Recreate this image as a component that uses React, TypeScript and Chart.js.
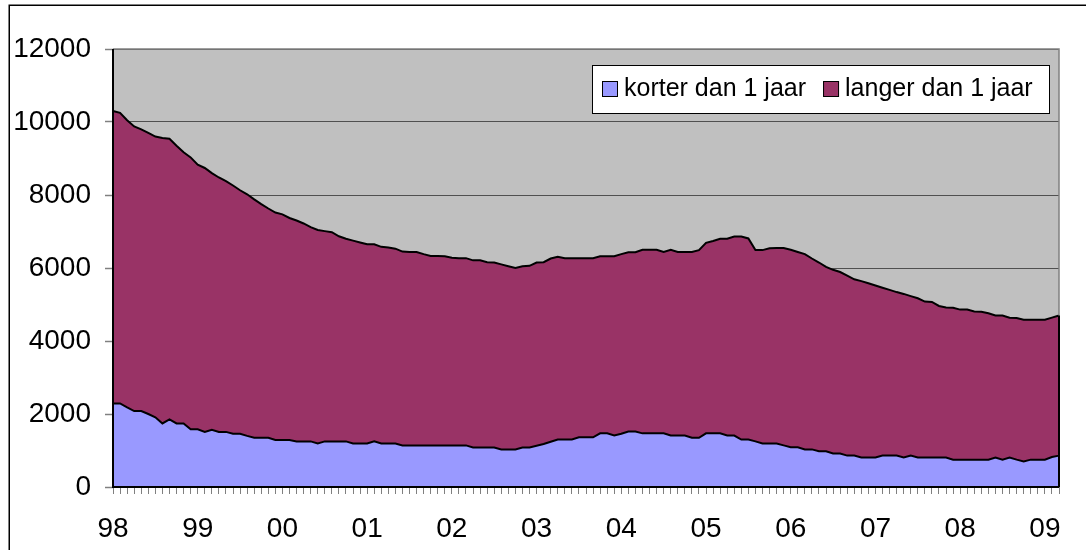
import React, { useEffect, useRef } from 'react';
import { Chart, registerables } from 'chart.js';

Chart.register(...registerables);

// Year tick labels (one every 12 months, starting January 1998)
const yearLabels = ['98', '99', '00', '01', '02', '03', '04', '05', '06', '07', '08', '09'];

// Monthly categories: Jan 1998 .. Mar 2009
const categories: string[] = [];
for (let i = 0; i < 135; i++) {
  const y = 1998 + Math.floor(i / 12);
  const m = (i % 12) + 1;
  categories.push(`${y}-${m < 10 ? '0' + m : m}`);
}

const seriesNames = ['korter dan 1 jaar', 'langer dan 1 jaar'];

// korter dan 1 jaar (bottom series)
const korter = [
  2290, 2290, 2180, 2080, 2080, 2000, 1910, 1740, 1850, 1740, 1740, 1580,
  1580, 1510, 1570, 1510, 1510, 1460, 1460, 1400, 1350, 1350, 1350, 1290,
  1290, 1290, 1250, 1250, 1250, 1190, 1250, 1250, 1250, 1250, 1190, 1190,
  1190, 1250, 1190, 1190, 1190, 1140, 1140, 1140, 1140, 1140, 1140, 1140,
  1140, 1140, 1140, 1080, 1080, 1080, 1080, 1030, 1030, 1030, 1080, 1080,
  1130, 1180, 1240, 1300, 1300, 1300, 1360, 1360, 1360, 1470, 1470, 1410,
  1460, 1520, 1520, 1470, 1470, 1470, 1470, 1410, 1410, 1410, 1350, 1350,
  1470, 1470, 1470, 1410, 1410, 1300, 1300, 1250, 1190, 1190, 1190, 1140,
  1090, 1090, 1030, 1030, 980, 980, 920, 920, 860, 860, 810, 810,
  810, 860, 860, 860, 810, 860, 810, 810, 810, 810, 810, 750,
  750, 750, 750, 750, 750, 810, 750, 810, 750, 700, 750, 750,
  750, 820, 860,
];

// langer dan 1 jaar (stacked on top)
const langer = [
  8010, 7960, 7870, 7800, 7720, 7700, 7690, 7820, 7690, 7610, 7430, 7450,
  7250, 7230, 7030, 6970, 6870, 6800, 6670, 6620, 6530, 6400, 6280, 6230,
  6180, 6080, 6050, 5970, 5870, 5850, 5760, 5730, 5620, 5550, 5560, 5510,
  5460, 5400, 5390, 5370, 5340, 5310, 5300, 5300, 5240, 5190, 5190, 5180,
  5140, 5130, 5130, 5130, 5130, 5080, 5070, 5070, 5020, 4970, 4970, 4980,
  5020, 4980, 5020, 5010, 4970, 4970, 4910, 4910, 4910, 4850, 4850, 4910,
  4920, 4910, 4910, 5030, 5030, 5030, 4970, 5090, 5030, 5030, 5090, 5140,
  5220, 5270, 5330, 5390, 5450, 5560, 5510, 5240, 5300, 5350, 5360, 5410,
  5410, 5350, 5350, 5230, 5170, 5050, 5030, 4970, 4930, 4830, 4830, 4770,
  4710, 4600, 4540, 4480, 4480, 4370, 4360, 4270, 4260, 4150, 4110, 4160,
  4110, 4110, 4060, 4050, 4010, 3890, 3950, 3830, 3880, 3880, 3830, 3830,
  3830, 3820, 3840,
];

const yTicks = { min: 0, max: 12000, step: 2000 };

const FONT = '"Liberation Sans", Arial, Helvetica, sans-serif';

const framePlugin = {
  id: 'excelFrame',
  beforeDraw(chart: any) {
    const { ctx, chartArea: a } = chart;
    ctx.save();
    ctx.fillStyle = '#C0C0C0';
    ctx.fillRect(a.left, a.top, a.right - a.left, a.bottom - a.top);
    ctx.restore();
  },
  afterDatasetsDraw(chart: any) {
    const { ctx, chartArea: a } = chart;
    ctx.save();
    // top and right plot border (gray)
    ctx.strokeStyle = '#808080';
    ctx.lineWidth = 1.5;
    ctx.beginPath();
    ctx.moveTo(a.left, a.top);
    ctx.lineTo(a.right, a.top);
    ctx.lineTo(a.right, a.bottom);
    ctx.stroke();
    // right edge of the area polygon (black)
    const meta = chart.getDatasetMeta(1);
    const last = meta.data[meta.data.length - 1];
    ctx.strokeStyle = '#000';
    ctx.lineWidth = 2;
    ctx.beginPath();
    ctx.moveTo(a.right, last.y);
    ctx.lineTo(a.right, a.bottom);
    ctx.stroke();
    // axes
    ctx.beginPath();
    ctx.moveTo(a.left, a.top);
    ctx.lineTo(a.left, a.bottom);
    ctx.lineTo(a.right, a.bottom);
    ctx.stroke();
    ctx.restore();
  },
  afterDraw(chart: any) {
    const { ctx } = chart;
    ctx.save();
    // outer chart border (left & top visible)
    ctx.strokeStyle = '#000';
    ctx.lineWidth = 1.5;
    ctx.beginPath();
    ctx.moveTo(9.25, chart.height + 2);
    ctx.lineTo(9.25, 5.25);
    ctx.lineTo(chart.width + 2, 5.25);
    ctx.stroke();

    // legend box
    const boxL = 592, boxT = 65, boxR = 1049, boxB = 113;
    ctx.fillStyle = '#FFFFFF';
    ctx.fillRect(boxL, boxT, boxR - boxL, boxB - boxT);
    ctx.strokeStyle = '#000';
    ctx.lineWidth = 1;
    ctx.strokeRect(boxL + 0.5, boxT + 0.5, boxR - boxL, boxB - boxT);

    ctx.font = `25px ${FONT}`;
    ctx.textBaseline = 'alphabetic';
    ctx.textAlign = 'left';
    let x = 602;
    const sqTop = 81;
    chart.data.datasets.forEach((ds: any) => {
      ctx.fillStyle = ds.backgroundColor;
      ctx.fillRect(x, sqTop, 16, 16);
      ctx.strokeStyle = '#000';
      ctx.lineWidth = 1;
      ctx.strokeRect(x + 0.5, sqTop + 0.5, 15, 15);
      x += 22;
      ctx.fillStyle = '#000';
      ctx.fillText(ds.label, x, 96);
      x += ctx.measureText(ds.label).width + 17;
    });
    ctx.restore();
  },
};

export default function App() {
  const canvasRef = useRef<HTMLCanvasElement | null>(null);

  useEffect(() => {
    if (!canvasRef.current) return;
    const chart = new Chart(canvasRef.current, {
      type: 'line',
      data: {
        labels: categories,
        datasets: [
          {
            label: seriesNames[0],
            data: korter,
            backgroundColor: '#9999FF',
            borderColor: '#000000',
            borderWidth: 2,
            fill: 'origin',
            pointRadius: 0,
            tension: 0,
          },
          {
            label: seriesNames[1],
            data: langer,
            backgroundColor: '#993366',
            borderColor: '#000000',
            borderWidth: 2,
            fill: '-1',
            pointRadius: 0,
            tension: 0,
          },
        ],
      },
      options: {
        responsive: false,
        animation: false,
        events: [],
        layout: { padding: { left: 0, top: 49, right: 27, bottom: 0 } },
        plugins: {
          legend: { display: false },
          tooltip: { enabled: false },
          title: { display: false },
        },
        scales: {
          x: {
            type: 'category',
            offset: false,
            border: { display: false },
            grid: {
              display: true,
              drawOnChartArea: false,
              drawTicks: true,
              tickLength: 7,
              tickColor: '#808080',
              tickWidth: 1,
            },
            ticks: {
              autoSkip: false,
              maxRotation: 0,
              minRotation: 0,
              padding: 18,
              color: '#000',
              font: { family: FONT, size: 28 },
              callback: (_v: any, index: number) =>
                index % 12 === 0 ? yearLabels[index / 12] : '',
            },
            afterFit: (axis: any) => {
              axis.height = 63;
            },
          },
          y: {
            stacked: true,
            min: yTicks.min,
            max: yTicks.max,
            border: { display: false },
            grid: {
              color: '#505050',
              lineWidth: 1,
              tickLength: 8,
              tickColor: '#808080',
              tickWidth: 1.5,
            },
            ticks: {
              stepSize: yTicks.step,
              padding: 14,
              color: '#000',
              font: { family: FONT, size: 28 },
              callback: (v: any) => String(v),
            },
            afterFit: (axis: any) => {
              axis.width = 113;
            },
          },
        },
      },
      plugins: [framePlugin],
    });
    return () => chart.destroy();
  }, []);

  return (
    <div style={{ position: 'absolute', left: 0, top: 0, width: 1086, height: 550, background: '#fff' }}>
      <canvas ref={canvasRef} width={1086} height={550} style={{ display: 'block' }} />
    </div>
  );
}
